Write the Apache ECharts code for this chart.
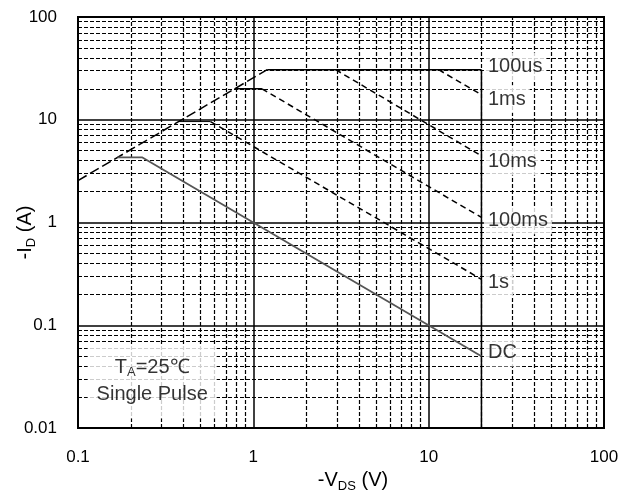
<!DOCTYPE html>
<html>
<head>
<meta charset="utf-8">
<script src="https://cdn.jsdelivr.net/npm/echarts@6/dist/echarts.min.js"></script>
<style>
  html, body { margin: 0; padding: 0; background: #fff; }
  #chart { width: 633px; height: 500px; }
</style>
</head>
<body>
<div id="chart"></div>
<script>
const FONT = '"Liberation Sans", Arial, sans-serif';

const xTicks = [0.1, 1, 10, 100];
const xTickLabels = ['0.1', '1', '10', '100'];
const yTicks = [0.01, 0.1, 1, 10, 100];
const yTickLabels = ['0.01', '0.1', '1', '10', '100'];
const minorSteps = [2, 3, 4, 5, 6, 7, 8, 9];

// SOA boundaries: flat (current limited) parts solid, sloped parts dashed
const rdsLimit = [[0.1, 2.56], [1.2, 30.7]];
const flat100us = [[1.2, 30.7], [20, 30.7]];
const slope1ms = [[11.4, 30.7], [20, 17.5]];
const slope10ms = [[2.95, 30.7], [20, 4.45]];
const flat100ms = [[0.78, 20], [1.12, 20]];
const slope100ms = [[1.12, 20], [20, 1.12]];
const flat1s = [[0.375, 9.6], [0.57, 9.6]];
const slope1s = [[0.57, 9.6], [20, 0.28]];
const dcLine = [[0.168, 4.3], [0.233, 4.3], [20, 0.05]];
const vdsLimit = [[20, 30.7], [20, 0.01]];

const curveNames = ['100us', '1ms', '10ms', '100ms', '1s', 'DC'];
const curveLabelAt = [[20, 33], [20, 15.9], [20, 3.92], [20, 1.05], [20, 0.26], [20, 0.0544]];
const noteAt = [0.265, 0.0284];

function tickText(v, ticks, labels) {
  let best = 0;
  ticks.forEach((t, i) => {
    if (Math.abs(Math.log10(t) - Math.log10(v)) < Math.abs(Math.log10(ticks[best]) - Math.log10(v))) best = i;
  });
  return labels[best];
}

function minorValues(ticks) {
  const out = [];
  ticks.slice(0, -1).forEach(d => minorSteps.forEach(k => out.push(k * d)));
  return out;
}

function seg(data, dash, color, width) {
  return {
    type: 'line',
    data: data,
    symbol: 'none',
    silent: true,
    z: 3,
    lineStyle: { color: color || '#000', width: width || 1.5, type: dash || 'solid' }
  };
}

const chart = echarts.init(document.getElementById('chart'));

const subRich = {
  a: { fontSize: 20, fontFamily: FONT, color: '#000' },
  s: { fontSize: 13, fontFamily: FONT, color: '#000', padding: [12, 0, 0, 0] }
};

const option = {
  animation: false,
  grid: {
    left: 78, right: 29, top: 17, bottom: 72,
    outerBoundsMode: 'none',
    containLabel: false,
    show: true, borderColor: '#000', borderWidth: 2, backgroundColor: 'transparent'
  },
  xAxis: {
    type: 'log',
    logBase: 10,
    min: 0.1,
    max: 100,
    axisLine: { show: false },
    axisTick: { show: false },
    splitLine: { show: true, lineStyle: { color: '#000', width: 1.5 } },
    axisLabel: {
      margin: 21, fontSize: 17, color: '#000', fontFamily: FONT,
      formatter: v => tickText(v, xTicks, xTickLabels)
    },
    name: '{a|-V}{s|DS}{a| (V)}',
    nameLocation: 'middle',
    nameGap: 40,
    nameMoveOverlap: false,
    nameTextStyle: { rich: subRich, padding: [0, 0, 0, 24] }
  },
  yAxis: {
    type: 'log',
    logBase: 10,
    min: 0.01,
    max: 100,
    axisLine: { show: false },
    axisTick: { show: false },
    splitLine: { show: true, lineStyle: { color: '#000', width: 1.5 } },
    axisLabel: {
      margin: 21, fontSize: 17, color: '#000', fontFamily: FONT,
      formatter: v => tickText(v, yTicks, yTickLabels)
    },
    name: '{a|-I}{s|D}{a| (A)}',
    nameLocation: 'middle',
    nameGap: 40,
    nameMoveOverlap: false,
    nameTextStyle: { rich: subRich, padding: [0, 20, 0, 0] }
  },
  series: [
    Object.assign(seg(vdsLimit), {
      markLine: {
        z: 1,
        silent: true,
        symbol: ['none', 'none'],
        label: { show: false },
        lineStyle: { color: '#000', width: 1.2, type: [4, 2], opacity: 1 },
        data: minorValues(xTicks).map(v => ({ xAxis: v }))
          .concat(minorValues(yTicks).map(v => ({ yAxis: v })))
      }
    }),
    seg(rdsLimit, [10, 4]),
    seg(flat100us),
    seg(slope1ms, [6, 4]),
    seg(slope10ms, [6, 4]),
    seg(flat100ms),
    seg(slope100ms, [6, 4]),
    seg(flat1s, 'solid', '#000', 1),
    seg(slope1s, [6, 4]),
    seg(dcLine, 'solid', '#555', 1.8),
    {
      type: 'scatter',
      z: 5,
      silent: true,
      symbolSize: 1,
      itemStyle: { color: 'rgba(0,0,0,0)' },
      data: curveNames.map((n, i) => ({ name: n, value: curveLabelAt[i] })),
      label: {
        show: true,
        position: 'right',
        distance: 2,
        formatter: '{b}',
        color: '#000',
        fontSize: 20,
        fontFamily: FONT,
        backgroundColor: '#fff',
        padding: [4, 4]
      }
    },
    {
      type: 'scatter',
      z: 5,
      silent: true,
      symbolSize: 1,
      itemStyle: { color: 'rgba(0,0,0,0)' },
      data: [noteAt],
      label: {
        show: true,
        position: 'inside',
        align: 'center',
        formatter: '{a|T}{s|A}{a|=25℃}\n{a|Single Pulse}',
        backgroundColor: '#fff',
        padding: [10, 9],
        rich: {
          a: { fontSize: 20, fontFamily: FONT, color: '#000', lineHeight: 27, align: 'center' },
          s: { fontSize: 13, fontFamily: FONT, color: '#000', lineHeight: 13, padding: [10, 0, 0, 0], align: 'center' }
        }
      }
    }
  ]
};

chart.setOption(option);
</script>
</body>
</html>
